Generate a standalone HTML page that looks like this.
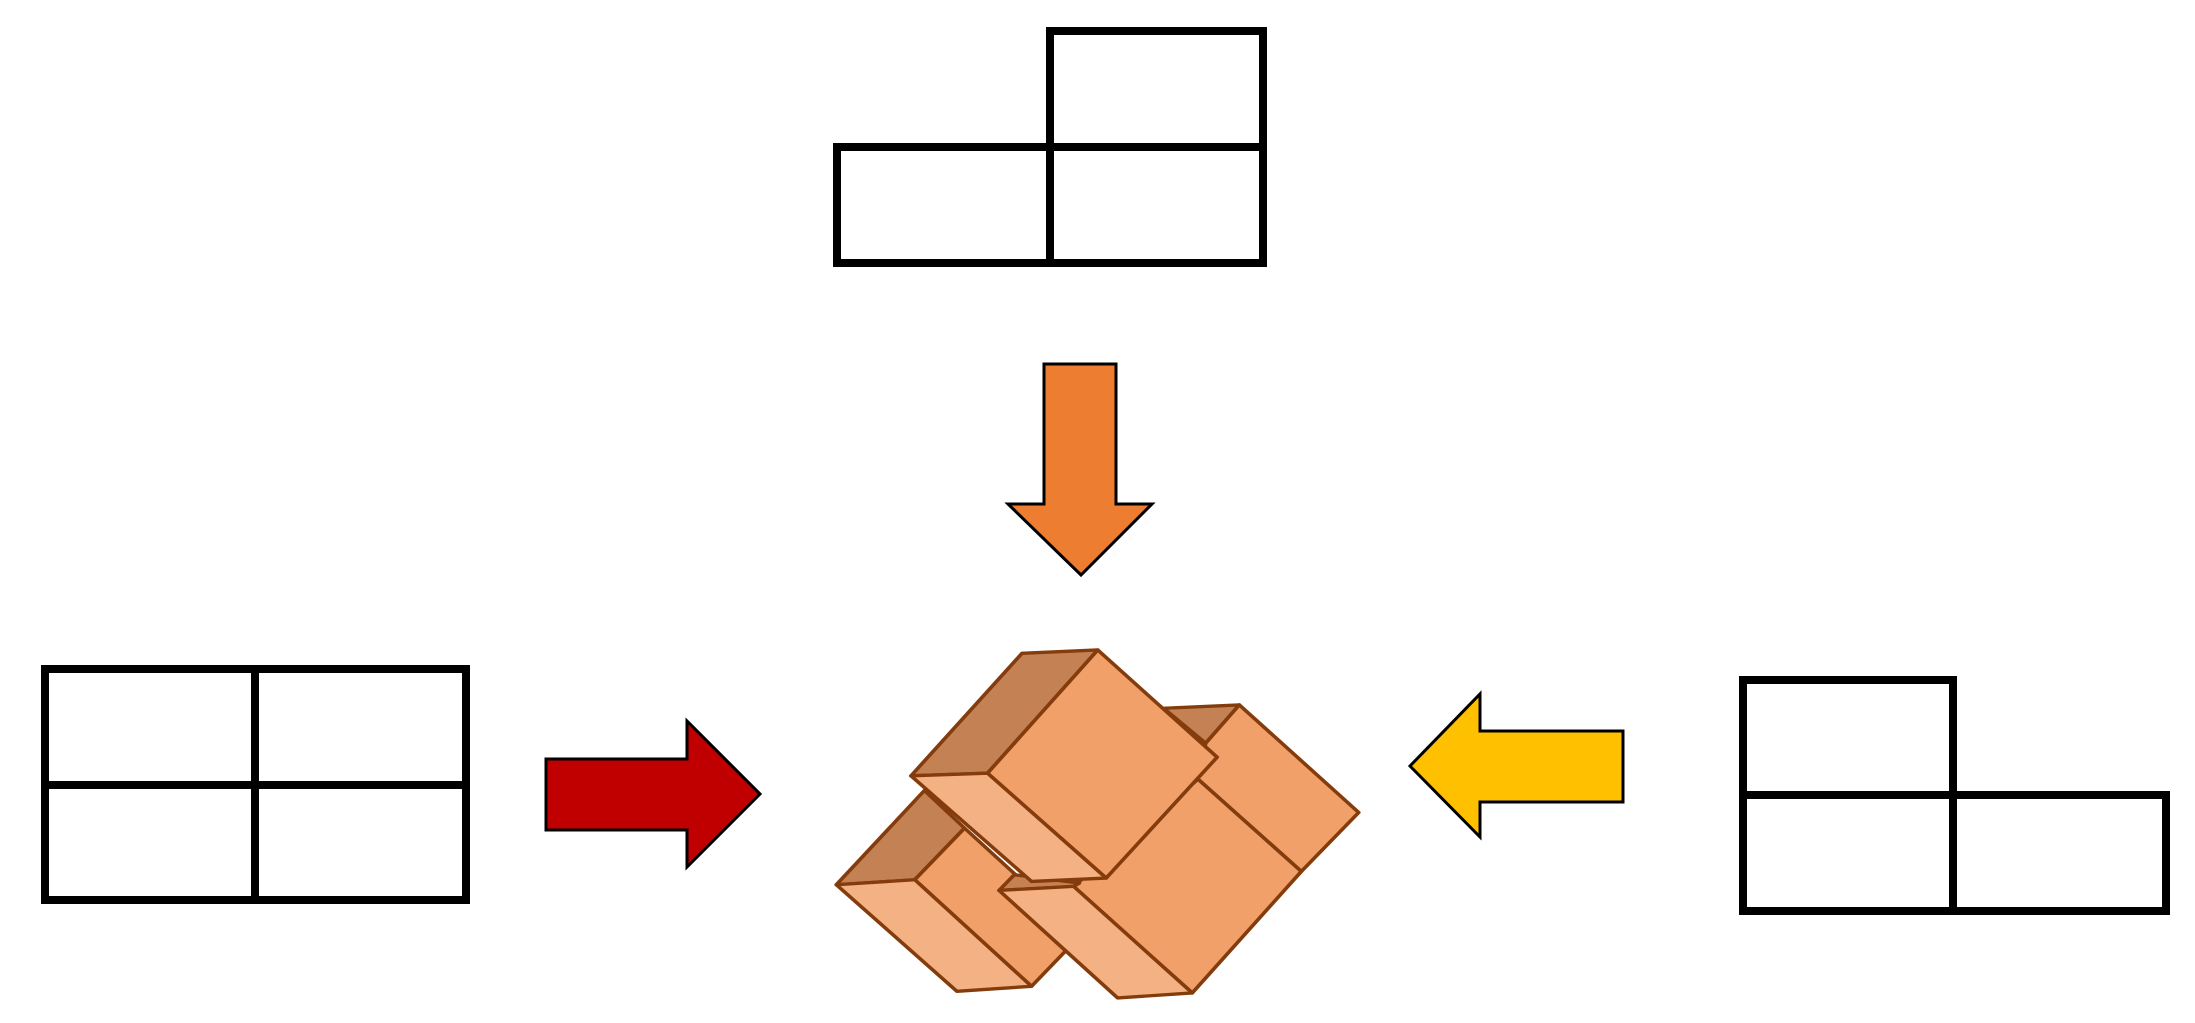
<!DOCTYPE html>
<html><head><style>html,body{margin:0;padding:0;background:#fff;}svg{display:block}</style></head>
<body>
<svg width="2195" height="1023" viewBox="0 0 2195 1023" xmlns="http://www.w3.org/2000/svg">
<g stroke="#000" stroke-width="8" fill="none" stroke-linecap="square">
<line x1="1050" y1="31" x2="1263" y2="31"/>
<line x1="837" y1="147" x2="1263" y2="147"/>
<line x1="837" y1="263" x2="1263" y2="263"/>
<line x1="837" y1="147" x2="837" y2="263"/>
<line x1="1050" y1="31" x2="1050" y2="263"/>
<line x1="1263" y1="31" x2="1263" y2="263"/>
<line x1="45" y1="669" x2="466" y2="669"/>
<line x1="45" y1="785" x2="466" y2="785"/>
<line x1="45" y1="900" x2="466" y2="900"/>
<line x1="45" y1="669" x2="45" y2="900"/>
<line x1="255" y1="669" x2="255" y2="900"/>
<line x1="466" y1="669" x2="466" y2="900"/>
<line x1="1743" y1="680" x2="1953" y2="680"/>
<line x1="1743" y1="795" x2="2166" y2="795"/>
<line x1="1743" y1="911" x2="2166" y2="911"/>
<line x1="1743" y1="680" x2="1743" y2="911"/>
<line x1="1953" y1="680" x2="1953" y2="911"/>
<line x1="2166" y1="795" x2="2166" y2="911"/>
</g>
<polygon points="1044,364 1116,364 1116,504 1152,504 1081,575 1008,504 1044,504" fill="#ED7D31" stroke="#000" stroke-width="3"/>
<polygon points="546,759 687,759 687,721 760,794 687,867 687,830 546,830" fill="#C00000" stroke="#000" stroke-width="3"/>
<polygon points="1410,766 1480,694 1480,731 1623,731 1623,802 1480,802 1480,837" fill="#FFC000" stroke="#000" stroke-width="3"/>
<g transform="translate(800,620) scale(0.3827,0.333)" stroke="#843C0C" stroke-width="10" stroke-linejoin="round">
<polygon points="950,265 1148,255 1060,370" fill="#C48154"/>
<polygon points="1060,370 1148,255 1460,578 1310,755 1040,478" fill="#F0A068"/>
<polygon points="715,800 1040,478 1310,755 1025,1120" fill="#F0A068"/>
<polygon points="95,795 325,512 430,625 300,780" fill="#C48154"/>
<polygon points="300,780 430,625 735,945 605,1100" fill="#F0A068"/>
<polygon points="95,795 300,780 605,1100 410,1115" fill="#F4B183"/>
<polygon points="520,812 560,765 730,790 715,800" fill="#C48154"/>
<polygon points="520,812 715,800 1025,1120 830,1135" fill="#F4B183"/>
<polygon points="290,468 580,100 778,90 490,460" fill="#C48154"/>
<polygon points="490,460 778,90 1090,412 800,775" fill="#F0A068"/>
<polygon points="290,468 490,460 800,775 605,785" fill="#F4B183"/>
</g>
</svg>
</body></html>
